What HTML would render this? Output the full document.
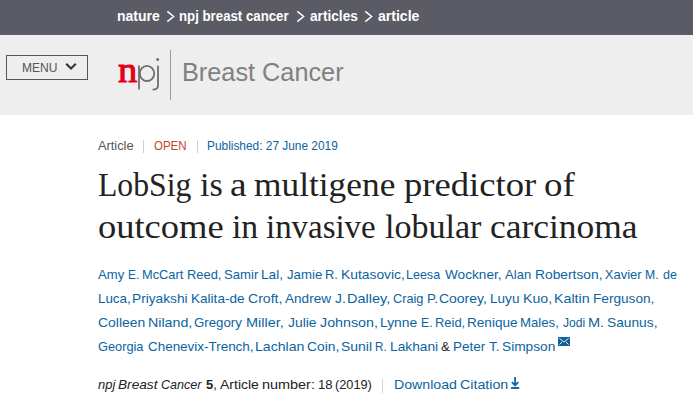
<!DOCTYPE html>
<html><head><meta charset="utf-8">
<style>
html,body{margin:0;padding:0;}
body{width:693px;height:404px;overflow:hidden;position:relative;background:#fff;font-family:"Liberation Sans",sans-serif;}
.a{position:absolute;white-space:nowrap;line-height:1;transform-origin:0 0;}
#bar{position:absolute;left:0;top:0;width:693px;height:35px;background:#5b5b65;}
#hdr{position:absolute;left:0;top:35px;width:693px;height:80px;background:#eeeeee;}
#menu{position:absolute;left:6px;top:55px;width:80px;height:23px;border:1px solid #555;}
</style></head><body>
<div id="bar"></div>
<div id="hdr"></div>
<svg style="position:absolute;left:0;top:0;" width="693" height="35"><path d="M167.3 11.3 L173.6 16.5 L167.3 21.7 M297.3 11.3 L303.6 16.5 L297.3 21.7 M365.3 11.3 L371.6 16.5 L365.3 21.7" fill="none" stroke="#fff" stroke-width="1.5"/></svg>
<div id="menu"></div>
<svg style="position:absolute;left:65px;top:62px;" width="12" height="9" viewBox="0 0 12 9"><path d="M1.2 1.8 L6 6.6 L10.8 1.8" fill="none" stroke="#333" stroke-width="2.1"/></svg>
<div class="a" style="left:117.5px;top:52px;font-family:'Liberation Serif',serif;font-size:36px;color:#e3001b;-webkit-text-stroke:1px #e3001b;transform:scaleX(1.07);">n</div>
<svg style="position:absolute;left:130px;top:55px;" width="35" height="40" viewBox="0 0 35 40"><path d="M9 10.6 V34.5" stroke="#6e6e6e" stroke-width="1.8" fill="none"/><ellipse cx="17.0" cy="18.4" rx="7.2" ry="7.6" stroke="#6e6e6e" stroke-width="1.8" fill="none"/><path d="M28 10.8 V30.5 C28 33.4 26.2 34.6 22.6 34.6" stroke="#6e6e6e" stroke-width="1.8" fill="none"/><circle cx="27.7" cy="4.4" r="1.5" fill="#6e6e6e"/></svg>
<div class="a" style="left:170px;top:50px;width:1px;height:50px;background:#9a9a9a;"></div>
<div class="a" style="left:143px;top:140px;width:1px;height:13px;background:#d0d0d0;"></div>
<div class="a" style="left:197px;top:140px;width:1px;height:13px;background:#d0d0d0;"></div>
<div class="a" style="left:116.90px;top:9.00px;font-family:'Liberation Sans',sans-serif;font-size:14px;font-weight:bold;color:#fff;">nature</div>
<div class="a" style="left:179.25px;top:9.00px;font-family:'Liberation Sans',sans-serif;font-size:14px;font-weight:bold;color:#fff;transform:scaleX(0.9455);">npj breast cancer</div>
<div class="a" style="left:309.71px;top:9.00px;font-family:'Liberation Sans',sans-serif;font-size:14px;font-weight:bold;color:#fff;transform:scaleX(0.9750);">articles</div>
<div class="a" style="left:377.80px;top:9.00px;font-family:'Liberation Sans',sans-serif;font-size:14px;font-weight:bold;color:#fff;transform:scaleX(1.0037);">article</div>
<div class="a" style="left:22.48px;top:61.00px;font-family:'Liberation Sans',sans-serif;font-size:13px;color:#555;transform:scaleX(0.9241);">MENU</div>
<div class="a" style="left:181.68px;top:60.20px;font-family:'Liberation Sans',sans-serif;font-size:25px;color:#808080;transform:scaleX(1.0111);">Breast Cancer</div>
<div class="a" style="left:98.20px;top:138.70px;font-family:'Liberation Sans',sans-serif;font-size:13px;color:#555;transform:scaleX(0.9831);">Article</div>
<div class="a" style="left:154.04px;top:138.70px;font-family:'Liberation Sans',sans-serif;font-size:13px;color:#c0472b;transform:scaleX(0.8829);">OPEN</div>
<div class="a" style="left:206.79px;top:138.70px;font-family:'Liberation Sans',sans-serif;font-size:13px;color:#0b64a0;transform:scaleX(0.9138);">Published: 27 June 2019</div>
<div class="a" style="left:98.38px;top:167.00px;font-family:'Liberation Serif',serif;font-size:34.5px;color:#222;transform:scaleX(0.9180);">LobSig</div>
<div class="a" style="left:200.16px;top:167.00px;font-family:'Liberation Serif',serif;font-size:34.5px;color:#222;transform:scaleX(0.9905);">is</div>
<div class="a" style="left:230.05px;top:167.00px;font-family:'Liberation Serif',serif;font-size:34.5px;color:#222;transform:scaleX(1.0815);">a</div>
<div class="a" style="left:254.33px;top:167.00px;font-family:'Liberation Serif',serif;font-size:34.5px;color:#222;transform:scaleX(1.0243);">multigene</div>
<div class="a" style="left:404.27px;top:167.00px;font-family:'Liberation Serif',serif;font-size:34.5px;color:#222;transform:scaleX(1.0618);">predictor</div>
<div class="a" style="left:543.86px;top:167.00px;font-family:'Liberation Serif',serif;font-size:34.5px;color:#222;transform:scaleX(1.0691);">of</div>
<div class="a" style="left:97.68px;top:208.80px;font-family:'Liberation Serif',serif;font-size:34.5px;color:#222;transform:scaleX(1.0572);">outcome</div>
<div class="a" style="left:231.97px;top:208.80px;font-family:'Liberation Serif',serif;font-size:34.5px;color:#222;transform:scaleX(0.9765);">in</div>
<div class="a" style="left:266.28px;top:208.80px;font-family:'Liberation Serif',serif;font-size:34.5px;color:#222;transform:scaleX(0.9540);">invasive</div>
<div class="a" style="left:384.96px;top:208.80px;font-family:'Liberation Serif',serif;font-size:34.5px;color:#222;transform:scaleX(0.9871);">lobular</div>
<div class="a" style="left:489.82px;top:208.80px;font-family:'Liberation Serif',serif;font-size:34.5px;color:#222;transform:scaleX(1.0261);">carcinoma</div>
<div class="a" style="left:98.20px;top:268.00px;font-family:'Liberation Sans',sans-serif;font-size:13px;color:#0b64a0;transform:scaleX(1.0077);">Amy</div>
<div class="a" style="left:128.19px;top:268.00px;font-family:'Liberation Sans',sans-serif;font-size:13px;color:#0b64a0;transform:scaleX(0.9100);">E.</div>
<div class="a" style="left:142.02px;top:268.00px;font-family:'Liberation Sans',sans-serif;font-size:13px;color:#0b64a0;transform:scaleX(0.9840);">McCart</div>
<div class="a" style="left:187.21px;top:268.00px;font-family:'Liberation Sans',sans-serif;font-size:13px;color:#0b64a0;transform:scaleX(0.9908);">Reed,</div>
<div class="a" style="left:223.74px;top:268.00px;font-family:'Liberation Sans',sans-serif;font-size:13px;color:#0b64a0;transform:scaleX(1.0121);">Samir</div>
<div class="a" style="left:261.35px;top:268.00px;font-family:'Liberation Sans',sans-serif;font-size:13px;color:#0b64a0;transform:scaleX(1.0507);">Lal,</div>
<div class="a" style="left:287.35px;top:268.00px;font-family:'Liberation Sans',sans-serif;font-size:13px;color:#0b64a0;transform:scaleX(1.0163);">Jamie</div>
<div class="a" style="left:325.01px;top:268.00px;font-family:'Liberation Sans',sans-serif;font-size:13px;color:#0b64a0;transform:scaleX(0.9860);">R.</div>
<div class="a" style="left:340.54px;top:268.00px;font-family:'Liberation Sans',sans-serif;font-size:13px;color:#0b64a0;transform:scaleX(1.0649);">Kutasovic,</div>
<div class="a" style="left:405.74px;top:268.00px;font-family:'Liberation Sans',sans-serif;font-size:13px;color:#0b64a0;transform:scaleX(0.9623);">Leesa</div>
<div class="a" style="left:444.74px;top:268.00px;font-family:'Liberation Sans',sans-serif;font-size:13px;color:#0b64a0;transform:scaleX(1.0476);">Wockner,</div>
<div class="a" style="left:504.70px;top:268.00px;font-family:'Liberation Sans',sans-serif;font-size:13px;color:#0b64a0;transform:scaleX(1.0059);">Alan</div>
<div class="a" style="left:535.24px;top:268.00px;font-family:'Liberation Sans',sans-serif;font-size:13px;color:#0b64a0;transform:scaleX(1.0618);">Robertson,</div>
<div class="a" style="left:604.80px;top:268.00px;font-family:'Liberation Sans',sans-serif;font-size:13px;color:#0b64a0;transform:scaleX(1.0000);">Xavier</div>
<div class="a" style="left:645.46px;top:268.00px;font-family:'Liberation Sans',sans-serif;font-size:13px;color:#0b64a0;transform:scaleX(0.9388);">M.</div>
<div class="a" style="left:662.52px;top:268.00px;font-family:'Liberation Sans',sans-serif;font-size:13px;color:#0b64a0;transform:scaleX(0.9630);">de</div>
<div class="a" style="left:97.97px;top:292.00px;font-family:'Liberation Sans',sans-serif;font-size:13px;color:#0b64a0;transform:scaleX(1.0286);">Luca,</div>
<div class="a" style="left:131.75px;top:292.00px;font-family:'Liberation Sans',sans-serif;font-size:13px;color:#0b64a0;transform:scaleX(1.0549);">Priyakshi</div>
<div class="a" style="left:191.16px;top:292.00px;font-family:'Liberation Sans',sans-serif;font-size:13px;color:#0b64a0;transform:scaleX(1.0432);">Kalita-de</div>
<div class="a" style="left:247.59px;top:292.00px;font-family:'Liberation Sans',sans-serif;font-size:13px;color:#0b64a0;transform:scaleX(1.0833);">Croft,</div>
<div class="a" style="left:284.50px;top:292.00px;font-family:'Liberation Sans',sans-serif;font-size:13px;color:#0b64a0;transform:scaleX(1.0455);">Andrew</div>
<div class="a" style="left:334.53px;top:292.00px;font-family:'Liberation Sans',sans-serif;font-size:13px;color:#0b64a0;transform:scaleX(1.0743);">J.</div>
<div class="a" style="left:347.39px;top:292.00px;font-family:'Liberation Sans',sans-serif;font-size:13px;color:#0b64a0;transform:scaleX(1.1129);">Dalley,</div>
<div class="a" style="left:392.97px;top:292.00px;font-family:'Liberation Sans',sans-serif;font-size:13px;color:#0b64a0;transform:scaleX(0.9797);">Craig</div>
<div class="a" style="left:426.58px;top:292.00px;font-family:'Liberation Sans',sans-serif;font-size:13px;color:#0b64a0;transform:scaleX(1.0235);">P.</div>
<div class="a" style="left:439.09px;top:292.00px;font-family:'Liberation Sans',sans-serif;font-size:13px;color:#0b64a0;transform:scaleX(1.0737);">Coorey,</div>
<div class="a" style="left:489.86px;top:292.00px;font-family:'Liberation Sans',sans-serif;font-size:13px;color:#0b64a0;transform:scaleX(1.0438);">Luyu</div>
<div class="a" style="left:523.01px;top:292.00px;font-family:'Liberation Sans',sans-serif;font-size:13px;color:#0b64a0;transform:scaleX(1.0898);">Kuo,</div>
<div class="a" style="left:554.00px;top:292.00px;font-family:'Liberation Sans',sans-serif;font-size:13px;color:#0b64a0;transform:scaleX(1.0959);">Kaltin</div>
<div class="a" style="left:592.75px;top:292.00px;font-family:'Liberation Sans',sans-serif;font-size:13px;color:#0b64a0;transform:scaleX(1.0478);">Ferguson,</div>
<div class="a" style="left:97.80px;top:316.00px;font-family:'Liberation Sans',sans-serif;font-size:13px;color:#0b64a0;transform:scaleX(1.0706);">Colleen</div>
<div class="a" style="left:148.00px;top:316.00px;font-family:'Liberation Sans',sans-serif;font-size:13px;color:#0b64a0;transform:scaleX(1.0954);">Niland,</div>
<div class="a" style="left:194.34px;top:316.00px;font-family:'Liberation Sans',sans-serif;font-size:13px;color:#0b64a0;transform:scaleX(1.0174);">Gregory</div>
<div class="a" style="left:245.89px;top:316.00px;font-family:'Liberation Sans',sans-serif;font-size:13px;color:#0b64a0;transform:scaleX(1.1150);">Miller,</div>
<div class="a" style="left:287.93px;top:316.00px;font-family:'Liberation Sans',sans-serif;font-size:13px;color:#0b64a0;transform:scaleX(1.0692);">Julie</div>
<div class="a" style="left:320.13px;top:316.00px;font-family:'Liberation Sans',sans-serif;font-size:13px;color:#0b64a0;transform:scaleX(1.0966);">Johnson,</div>
<div class="a" style="left:380.34px;top:316.00px;font-family:'Liberation Sans',sans-serif;font-size:13px;color:#0b64a0;transform:scaleX(1.0647);">Lynne</div>
<div class="a" style="left:420.86px;top:316.00px;font-family:'Liberation Sans',sans-serif;font-size:13px;color:#0b64a0;transform:scaleX(0.9400);">E.</div>
<div class="a" style="left:434.61px;top:316.00px;font-family:'Liberation Sans',sans-serif;font-size:13px;color:#0b64a0;transform:scaleX(0.9947);">Reid,</div>
<div class="a" style="left:466.96px;top:316.00px;font-family:'Liberation Sans',sans-serif;font-size:13px;color:#0b64a0;transform:scaleX(1.0439);">Renique</div>
<div class="a" style="left:520.18px;top:316.00px;font-family:'Liberation Sans',sans-serif;font-size:13px;color:#0b64a0;transform:scaleX(1.0152);">Males,</div>
<div class="a" style="left:562.87px;top:316.00px;font-family:'Liberation Sans',sans-serif;font-size:13px;color:#0b64a0;transform:scaleX(0.9319);">Jodi</div>
<div class="a" style="left:587.68px;top:316.00px;font-family:'Liberation Sans',sans-serif;font-size:13px;color:#0b64a0;transform:scaleX(1.1184);">M.</div>
<div class="a" style="left:606.71px;top:316.00px;font-family:'Liberation Sans',sans-serif;font-size:13px;color:#0b64a0;transform:scaleX(1.0579);">Saunus,</div>
<div class="a" style="left:97.86px;top:340.00px;font-family:'Liberation Sans',sans-serif;font-size:13px;color:#0b64a0;transform:scaleX(0.9824);">Georgia</div>
<div class="a" style="left:147.62px;top:340.00px;font-family:'Liberation Sans',sans-serif;font-size:13px;color:#0b64a0;transform:scaleX(1.0334);">Chenevix-Trench,</div>
<div class="a" style="left:255.32px;top:340.00px;font-family:'Liberation Sans',sans-serif;font-size:13px;color:#0b64a0;transform:scaleX(1.0834);">Lachlan</div>
<div class="a" style="left:306.60px;top:340.00px;font-family:'Liberation Sans',sans-serif;font-size:13px;color:#0b64a0;transform:scaleX(1.0632);">Coin,</div>
<div class="a" style="left:340.79px;top:340.00px;font-family:'Liberation Sans',sans-serif;font-size:13px;color:#0b64a0;transform:scaleX(1.0752);">Sunil</div>
<div class="a" style="left:374.51px;top:340.00px;font-family:'Liberation Sans',sans-serif;font-size:13px;color:#0b64a0;transform:scaleX(0.8930);">R.</div>
<div class="a" style="left:390.44px;top:340.00px;font-family:'Liberation Sans',sans-serif;font-size:13px;color:#0b64a0;transform:scaleX(1.0560);">Lakhani</div>
<div class="a" style="left:440.99px;top:340.00px;font-family:'Liberation Sans',sans-serif;font-size:13px;color:#0b64a0;transform:scaleX(1.0125);"><span style="color:#222">&amp;</span></div>
<div class="a" style="left:453.06px;top:340.00px;font-family:'Liberation Sans',sans-serif;font-size:13px;color:#0b64a0;transform:scaleX(1.0387);">Peter</div>
<div class="a" style="left:488.74px;top:340.00px;font-family:'Liberation Sans',sans-serif;font-size:13px;color:#0b64a0;transform:scaleX(1.0400);">T.</div>
<div class="a" style="left:502.01px;top:340.00px;font-family:'Liberation Sans',sans-serif;font-size:13px;color:#0b64a0;transform:scaleX(1.0531);">Simpson</div>
<div class="a" style="left:98.25px;top:377.50px;font-family:'Liberation Sans',sans-serif;font-size:13px;color:#222;transform:scaleX(0.9971);"><i>npj</i></div>
<div class="a" style="left:117.67px;top:377.50px;font-family:'Liberation Sans',sans-serif;font-size:13px;color:#222;transform:scaleX(1.0507);"><i>Breast</i></div>
<div class="a" style="left:161.18px;top:377.50px;font-family:'Liberation Sans',sans-serif;font-size:13px;color:#222;transform:scaleX(0.9663);"><i>Cancer</i></div>
<div class="a" style="left:206.20px;top:377.50px;font-family:'Liberation Sans',sans-serif;font-size:13px;color:#222;transform:scaleX(0.9946);"><b>5</b>,</div>
<div class="a" style="left:219.90px;top:377.50px;font-family:'Liberation Sans',sans-serif;font-size:13px;color:#222;transform:scaleX(1.0761);">Article</div>
<div class="a" style="left:262.49px;top:377.50px;font-family:'Liberation Sans',sans-serif;font-size:13px;color:#222;transform:scaleX(1.1099);">number:</div>
<div class="a" style="left:317.59px;top:377.50px;font-family:'Liberation Sans',sans-serif;font-size:13px;color:#222;transform:scaleX(1.0077);">18</div>
<div class="a" style="left:335.06px;top:377.50px;font-family:'Liberation Sans',sans-serif;font-size:13px;color:#222;transform:scaleX(0.9806);">(2019)</div>
<div class="a" style="left:394.01px;top:377.70px;font-family:'Liberation Sans',sans-serif;font-size:13px;color:#0b64a0;transform:scaleX(1.0875);">Download</div>
<div class="a" style="left:459.78px;top:377.70px;font-family:'Liberation Sans',sans-serif;font-size:13px;color:#0b64a0;transform:scaleX(1.0941);">Citation</div>
<svg style="position:absolute;left:558px;top:337px;" width="12" height="9" viewBox="0 0 12 9"><rect x="0" y="0" width="12" height="9" rx="0.6" fill="#0e6096"/><path d="M1.3 1.3 L6 5 L10.7 1.3 M1.5 7.6 L4 5 M10.5 7.6 L8 5" fill="none" stroke="#fff" stroke-width="0.9"/></svg>
<div class="a" style="left:382px;top:379px;width:1px;height:14px;background:#d5d5d5;"></div>
<svg style="position:absolute;left:510px;top:376px;" width="11" height="14" viewBox="0 0 11 14"><path d="M5.1 1 V9.3 M1.9 6.1 L5.1 9.4 L8.3 6.1" fill="none" stroke="#1b69a4" stroke-width="1.9"/><rect x="1" y="11" width="8.2" height="2" fill="#1b69a4"/></svg>
</body></html>
